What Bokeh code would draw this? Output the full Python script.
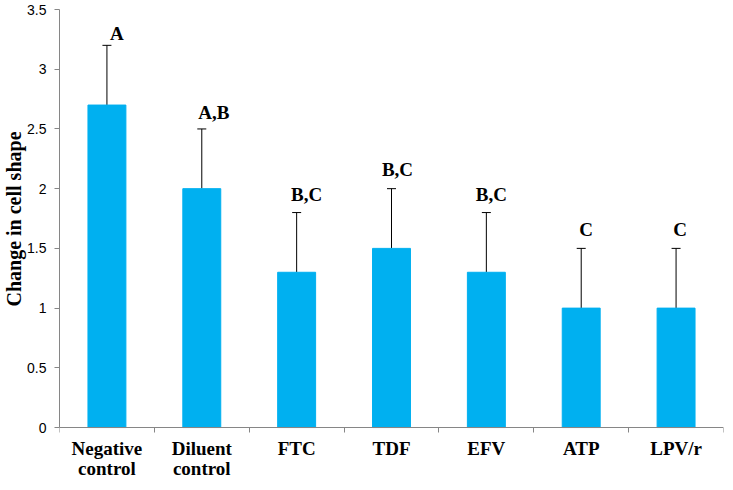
from bokeh.plotting import figure
from bokeh.models import Range1d, FixedTicker, Whisker, TeeHead, ColumnDataSource, Title
from bokeh.core.properties import value
from bokeh.embed import file_html
from bokeh.resources import INLINE

# ---- data ----
categories = ["Negative\ncontrol", "Diluent\ncontrol", "FTC", "TDF", "EFV", "ATP", "LPV/r"]
means = [2.7, 2.0, 1.3, 1.5, 1.3, 1.0, 1.0]
errors = [0.5, 0.5, 0.5, 0.5, 0.5, 0.5, 0.5]
letters = ["A", "A,B", "B,C", "B,C", "B,C", "C", "C"]
y_ticks = [0, 0.5, 1, 1.5, 2, 2.5, 3, 3.5]
y_tick_labels = ["0", "0.5", "1", "1.5", "2", "2.5", "3", "3.5"]
y_label = "Change in cell shape"
y_min, y_max = 0, 3.5

# label placement (style)
letter_dx = [10, 12, 10, 6, 5, 5, 4]
letter_dy = [-12, -16, -18, -19, -18, -19, -19]

x = [i + 0.5 for i in range(len(categories))]
tops = [m + e for m, e in zip(means, errors)]
src = ColumnDataSource(dict(x=x, mean=means, top=tops, letter=letters,
                            dx=letter_dx, dy=letter_dy))

BLUE = "#00B0F0"
GRAY = "#868686"
SERIF = "Liberation Serif"

# space under the zero line (in data units) that holds the category names
below = 0.46

p = figure(width=725, height=482, output_backend="svg", toolbar_location=None,
           x_range=Range1d(0, len(categories)), y_range=Range1d(y_min - below, y_max),
           min_border_top=9, min_border_right=2, min_border_left=0, min_border_bottom=0)
p.outline_line_color = None
p.xgrid.visible = False
p.ygrid.visible = False
p.background_fill_color = "white"

p.vbar(x="x", top="mean", bottom=y_min, width=0.4, source=src,
       fill_color=BLUE, line_color=BLUE)

w = Whisker(base="x", lower="mean", upper="top", source=src,
            line_color="black", line_width=1,
            upper_head=TeeHead(size=9, line_color="black", line_width=1),
            lower_head=None)
p.add_layout(w)

p.text(x="x", y="top", text="letter", x_offset="dx", y_offset="dy", source=src,
       text_align="center", text_baseline="alphabetic",
       text_font=value(SERIF), text_font_style="bold",
       text_font_size="19px", text_color="black")

# x axis drawn at y = 0: ticks at category boundaries, labels at centers
xa = p.xaxis[0]
xa.fixed_location = y_min
xa.ticker = FixedTicker(ticks=x, minor_ticks=list(range(len(categories) + 1)))
xa.major_label_overrides = {xi: c for xi, c in zip(x, categories)}
xa.major_tick_line_color = None
xa.major_tick_out = 0
xa.major_tick_in = 0
xa.minor_tick_line_color = GRAY
xa.minor_tick_out = 5
xa.minor_tick_in = 0
xa.axis_line_color = GRAY
xa.major_label_standoff = 5
xa.major_label_text_font = SERIF
xa.major_label_text_font_style = "bold"
xa.major_label_text_font_size = "19px"
xa.major_label_text_line_height = 0.98
xa.major_label_text_color = "black"

ya = p.yaxis[0]
ya.bounds = (y_min, y_max)
ya.ticker = FixedTicker(ticks=y_ticks)
ya.major_label_overrides = {t: l for t, l in zip(y_ticks, y_tick_labels)}
ya.minor_tick_line_color = None
ya.major_tick_out = 5
ya.major_tick_in = 0
ya.major_tick_line_color = GRAY
ya.axis_line_color = GRAY
ya.major_label_standoff = 8
ya.major_label_text_font = "Liberation Sans"
ya.major_label_text_font_size = "14px"
ya.major_label_text_color = "black"

# y-axis title, placed alongside the 0..3.5 part of the axis
p.add_layout(Title(text=y_label, align="left", offset=176, standoff=0,
                   text_font=SERIF, text_font_style="bold",
                   text_font_size="20px", text_color="black"), "left")

open("out.html", "w").write(file_html(p, INLINE))
